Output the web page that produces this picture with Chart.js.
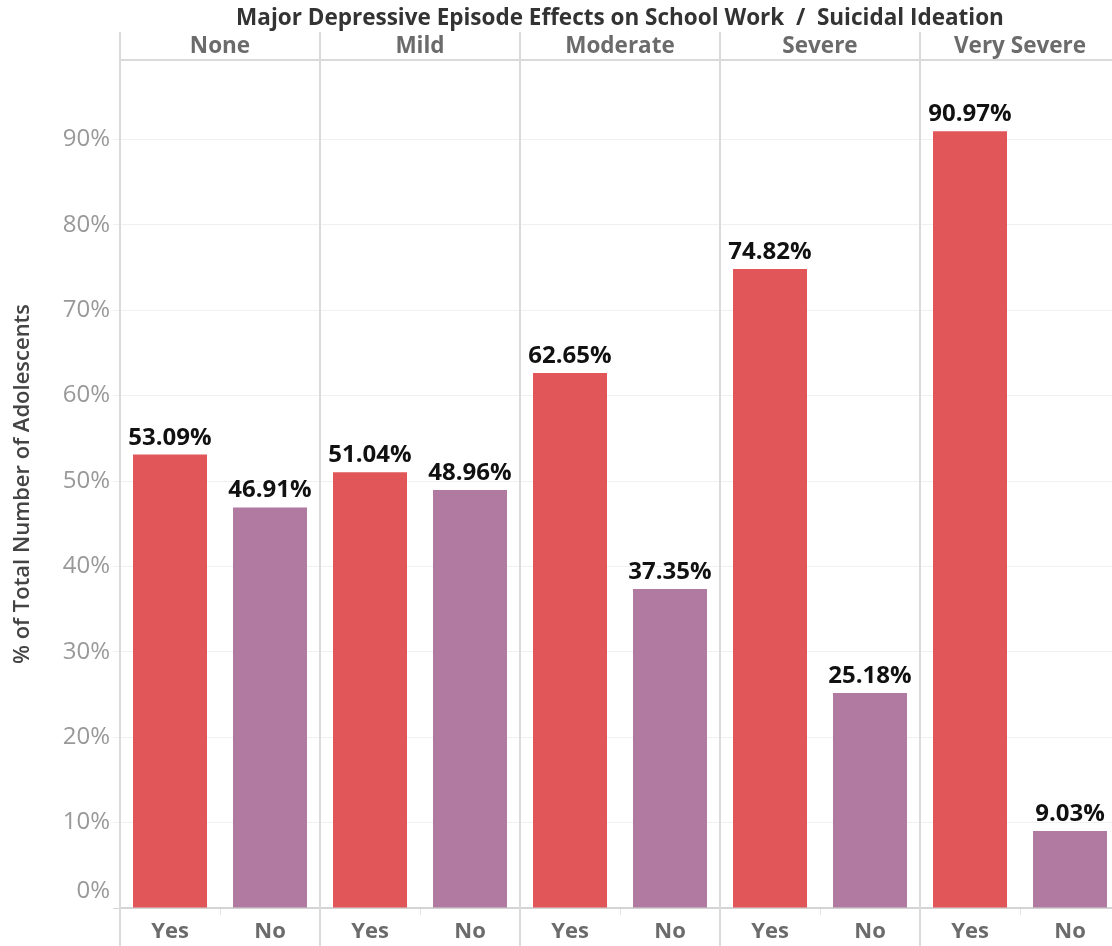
<!DOCTYPE html>
<html>
<head>
<meta charset="utf-8">
<script src="https://cdn.jsdelivr.net/npm/chart.js@4"></script>
<style>
  html, body { margin: 0; padding: 0; overflow: hidden; background: #fff; }
  #contenedor { position: relative; width: 1120px; height: 946px; }
</style>
</head>
<body>
<div id="contenedor"><canvas id="grafica"></canvas></div>
<script>
const grupos = ["None", "Mild", "Moderate", "Severe", "Very Severe"];
const respuestas = ["Yes", "No"];
const valoresSi = [53.09, 51.04, 62.65, 74.82, 90.97];
const valoresNo = [46.91, 48.96, 37.35, 25.18, 9.03];
const ticksY = [0, 10, 20, 30, 40, 50, 60, 70, 80, 90];

const rojo = "#E15759";
const morado = "#B07AA1";
const fuente = "'Open Sans', 'DejaVu Sans', sans-serif";

// una barra por respuesta dentro de cada grupo
const etiquetas = grupos.flatMap(() => respuestas);
const datos = grupos.flatMap((g, i) => [valoresSi[i], valoresNo[i]]);
const colores = grupos.flatMap(() => [rojo, morado]);

const separadores = {
  id: "separadores",
  beforeDatasetsDraw(chart) {
    const { ctx, chartArea, scales } = chart;
    const x = scales.x;
    const arriba = scales.x2.top;
    ctx.save();
    ctx.strokeStyle = "#dadada";
    ctx.lineWidth = 2;
    ctx.beginPath();
    for (let i = 0; i < grupos.length; i++) {
      const px = i === 0
        ? chartArea.left
        : (x.getPixelForValue(2 * i - 1) + x.getPixelForValue(2 * i)) / 2;
      ctx.moveTo(px, arriba);
      ctx.lineTo(px, chart.height);
    }
    ctx.moveTo(chartArea.left, chartArea.top);
    ctx.lineTo(chartArea.right, chartArea.top);
    ctx.stroke();
    ctx.restore();
  }
};

const etiquetasBarras = {
  id: "etiquetasBarras",
  afterDatasetsDraw(chart) {
    const { ctx } = chart;
    const meta = chart.getDatasetMeta(0);
    ctx.save();
    ctx.font = "bold 24px " + fuente;
    ctx.fillStyle = "#111";
    ctx.textAlign = "center";
    ctx.textBaseline = "alphabetic";
    meta.data.forEach((barra, i) => {
      ctx.fillText(datos[i].toFixed(2) + "%", barra.x, barra.y - 10);
    });
    ctx.restore();
  }
};

new Chart(document.querySelector("#grafica"), {
  type: "bar",
  data: {
    labels: etiquetas,
    datasets: [{
      data: datos,
      backgroundColor: colores,
      borderWidth: 0,
      barPercentage: 0.74,
      categoryPercentage: 1
    }]
  },
  options: {
    responsive: true,
    maintainAspectRatio: false,
    animation: false,
    layout: { padding: 0 },
    scales: {
      x: {
        position: "bottom",
        offset: true,
        afterFit: s => { s.height = 38; },
        grid: { offset: true, drawOnChartArea: false, tickLength: 7, color: "#e2e2e2" },
        border: { color: "#d4d4d4", width: 2 },
        ticks: { color: "#6b6b6b", padding: 4, font: { family: fuente, size: 22, weight: "bold" } }
      },
      x2: {
        type: "category",
        labels: grupos,
        position: "top",
        offset: true,
        afterFit: s => { s.height = 28; },
        grid: { display: false, drawTicks: false },
        border: { display: false },
        ticks: { color: "#6b6b6b", padding: 0, font: { family: fuente, size: 22.5, weight: "bold" } }
      },
      y: {
        min: 0,
        max: 99.3,
        afterFit: s => { s.width = 120; },
        afterBuildTicks: s => { s.ticks = ticksY.map(v => ({ value: v })); },
        grid: {
          tickLength: 7,
          color: c => (c.tick && c.tick.value === 0 ? "#d4d4d4" : "#f0f0f0")
        },
        border: { display: false },
        ticks: {
          color: "#999",
          padding: 3,
          font: { family: fuente, size: 24, lineHeight: 1.4 },
          callback: v => (v === 0 ? ["0%", ""] : v + "%")
        },
        title: {
          display: true,
          text: "% of Total Number of Adolescents",
          color: "#444",
          padding: { top: 10, bottom: 0 },
          font: { family: fuente, size: 22, weight: "600" }
        }
      }
    },
    plugins: {
      legend: { display: false },
      tooltip: { enabled: false },
      title: {
        display: true,
        text: "Major Depressive Episode Effects on School Work  /  Suicidal Ideation",
        fullSize: false,
        color: "#333",
        padding: { top: 5, bottom: 0 },
        font: { family: fuente, size: 22.5, weight: "bold", lineHeight: 1.2 }
      }
    }
  },
  plugins: [separadores, etiquetasBarras]
});
</script>
</body>
</html>
